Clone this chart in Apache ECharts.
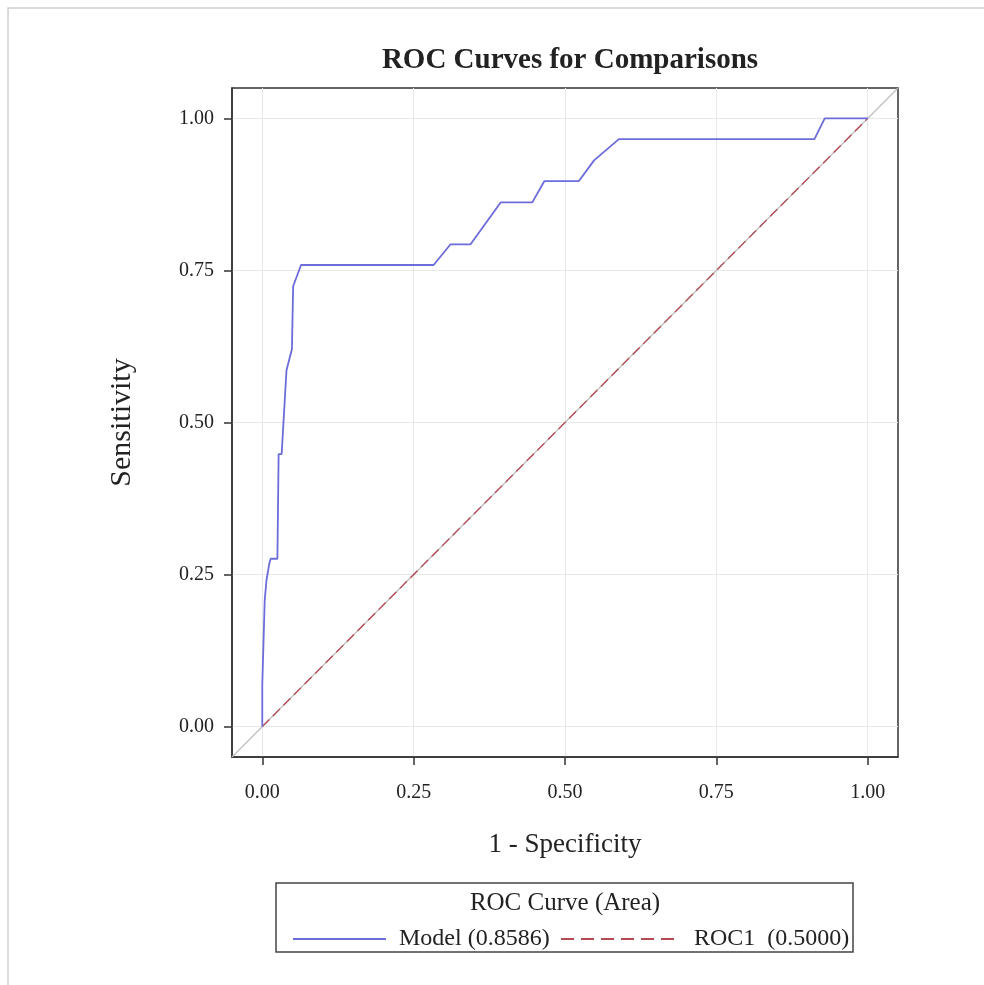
<!DOCTYPE html>
<html>
<head>
<meta charset="utf-8">
<script src="https://cdn.jsdelivr.net/npm/echarts@6/dist/echarts.min.js"></script>
<style>
  html, body { margin: 0; padding: 0; background: #fff; }
  #chart { width: 984px; height: 985px; }
</style>
</head>
<body>
<div id="chart"></div>
<script>
// ROC curve of the model (1 - specificity, sensitivity)
const modelFpr = [0, 0, 0.003, 0.004, 0.007, 0.012, 0.014, 0.025, 0.027, 0.032, 0.040, 0.049, 0.051, 0.064,
  0.283, 0.311, 0.344, 0.394, 0.446, 0.466, 0.523, 0.548, 0.589, 0.912, 0.929, 1];
const modelTpr = [0, 0.069, 0.069, 0.207, 0.241, 0.270, 0.276, 0.276, 0.448, 0.448, 0.586, 0.621, 0.724, 0.759,
  0.759, 0.793, 0.793, 0.862, 0.862, 0.897, 0.897, 0.931, 0.966, 0.966, 1, 1];
// chance line
const rocFpr = [0, 1];
const rocTpr = [0, 1];
// reference diagonal across the whole frame
const refLine = [-0.05, 1.05];
const tickValues = [0, 0.25, 0.5, 0.75, 1];
const legendNames = ['Model (0.8586)', 'ROC1  (0.5000)'];

const chart = echarts.init(document.getElementById('chart'));
const serif = '"Liberation Serif", "DejaVu Serif", serif';
const blue = '#6c6cda';
const red = '#b54a52';

const axisCommon = {
  type: 'value',
  min: -0.05,
  max: 1.05,
  axisLine: { show: true, onZero: false, lineStyle: { color: '#333', width: 1.5 } },
  axisTick: { show: true, length: 8, customValues: tickValues, lineStyle: { color: '#333', width: 1.5 } },
  axisLabel: {
    customValues: tickValues,
    formatter: v => v.toFixed(2),
    fontFamily: serif, fontSize: 20, color: '#222'
  },
  splitLine: { show: true, lineStyle: { color: '#e8e8e8', width: 1 } },
  nameLocation: 'middle',
  nameTextStyle: { fontFamily: serif, fontSize: 27, color: '#222' }
};

const legendText = { fontFamily: serif, fontSize: 24, color: '#222', padding: [0, 0, 0, 8] };

const options = {
  animation: false,
  title: {
    text: 'ROC Curves for Comparisons',
    left: 565, textAlign: 'center', top: 41,
    textStyle: { fontFamily: serif, fontSize: 29, fontWeight: 'bold', color: '#222' }
  },
  grid: {
    left: 232, top: 88, width: 666, height: 669,
    show: true, borderColor: '#333', borderWidth: 1.5, backgroundColor: '#fff'
  },
  xAxis: Object.assign({}, axisCommon, {
    name: '1 - Specificity', nameGap: 74,
    axisLabel: Object.assign({}, axisCommon.axisLabel, { margin: 26 })
  }),
  yAxis: Object.assign({}, axisCommon, {
    name: 'Sensitivity', nameGap: 95, nameRotate: 90,
    nameTextStyle: Object.assign({}, axisCommon.nameTextStyle, { fontSize: 30 }),
    axisLabel: Object.assign({}, axisCommon.axisLabel, { margin: 18 })
  }),
  legend: [
    {
      left: 287, top: 922, itemWidth: 93, itemHeight: 14,
      data: [legendNames[0]], itemStyle: { opacity: 0 }, textStyle: legendText
    },
    {
      left: 555, top: 922, itemWidth: 120, itemHeight: 14,
      data: [legendNames[1]], itemStyle: { opacity: 0 },
      lineStyle: { type: [13, 7] }, textStyle: legendText
    }
  ],
  graphic: [
    { type: 'rect', shape: { x: 8, y: 8, width: 1000, height: 1000 },
      style: { fill: 'none', stroke: '#cfcfcf', lineWidth: 1.5 }, z: -1 },
    { type: 'rect', shape: { x: 276, y: 883, width: 577, height: 69 },
      style: { fill: 'none', stroke: '#444', lineWidth: 1.5 } },
    { type: 'text', x: 565, y: 891,
      style: { text: 'ROC Curve (Area)', fontFamily: serif, fontSize: 25, fill: '#222', textAlign: 'center' } }
  ],
  series: [
    {
      type: 'line', name: 'ref', symbol: 'none', silent: true,
      data: refLine.map(v => [v, v]),
      lineStyle: { color: '#bdbdbd', width: 1.2 }, z: 1
    },
    {
      type: 'line', name: legendNames[1], symbol: 'none',
      data: rocFpr.map((v, i) => [v, rocTpr[i]]),
      itemStyle: { color: red },
      lineStyle: { color: red, width: 1.3, type: [10, 5] }, z: 2
    },
    {
      type: 'line', name: legendNames[0], symbol: 'none',
      data: modelFpr.map((v, i) => [v, modelTpr[i]]),
      itemStyle: { color: blue },
      lineStyle: { color: blue, width: 1.8 }, z: 3
    }
  ]
};

chart.setOption(options);
</script>
</body>
</html>
